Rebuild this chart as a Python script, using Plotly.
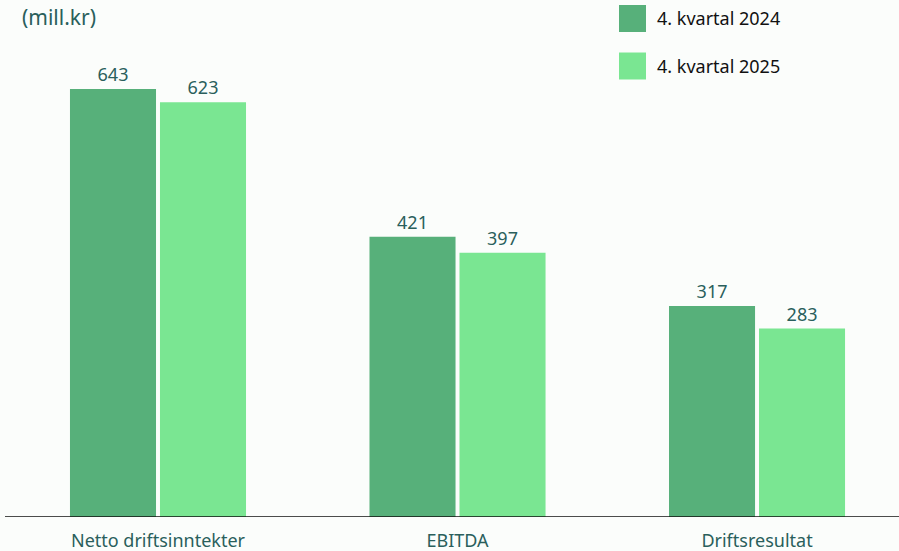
import plotly.graph_objects as go

categories = ["Netto driftsinntekter", "EBITDA", "Driftsresultat"]
series_names = ["4. kvartal 2024", "4. kvartal 2025"]
q4_2024 = [643, 421, 317]
q4_2025 = [623, 397, 283]

colors = ["#57b07a", "#7ae692"]
label_color = "#2a5f5c"
bg = "#fbfdfb"

fig = go.Figure()
for name, vals, col in zip(series_names, [q4_2024, q4_2025], colors):
    fig.add_trace(go.Bar(
        x=categories, y=vals, name=name,
        marker=dict(color=col, line=dict(width=0)),
        text=vals, textposition="outside", cliponaxis=False,
        textfont=dict(family="Noto Sans", size=18, color=label_color),
        showlegend=False,
    ))

# legend drawn by hand to get the large swatches
for i, (name, col) in enumerate(zip(series_names, colors)):
    y0 = 1 - (5 + i * 47.5) / 517
    fig.add_shape(type="rect", xref="paper", yref="paper",
                  x0=(619 - 8) / 891, x1=(646 - 8) / 891,
                  y0=y0 - 27 / 517, y1=y0,
                  fillcolor=col, line=dict(width=0), layer="above")
    fig.add_annotation(text=name, xref="paper", yref="paper",
                       x=(655 - 8) / 891, y=y0 - 13.5 / 517,
                       xanchor="left", yanchor="middle", showarrow=False,
                       font=dict(family="Noto Sans", size=18, color="#111111"))

fig.add_annotation(text="(mill.kr)", xref="paper", yref="paper",
                   x=(20 - 8) / 891, y=1 - 17 / 517, xanchor="left", yanchor="middle",
                   showarrow=False,
                   font=dict(family="Noto Sans", size=21, color=label_color))

# baseline
fig.add_shape(type="line", xref="paper", yref="y", x0=-3 / 891, x1=1, y0=0, y1=0,
              line=dict(color="#111111", width=1.5))

fig.update_layout(
    width=899, height=551,
    margin=dict(l=8, r=0, t=0, b=34),
    paper_bgcolor=bg, plot_bgcolor=bg,
    barmode="group", bargap=0.399, bargroupgap=0.044,
    xaxis=dict(range=[-0.5008, 2.474], showgrid=False, ticks="outside",
               ticklen=7, tickcolor=bg, showline=False, automargin=False,
               tickfont=dict(family="Noto Sans", size=18, color=label_color)),
    yaxis=dict(range=[0, 776.7], visible=False, showgrid=False, zeroline=False),
)

fig.write_html("out.html", config={"displayModeBar": False},
               post_script="document.body.style.margin='0';")
